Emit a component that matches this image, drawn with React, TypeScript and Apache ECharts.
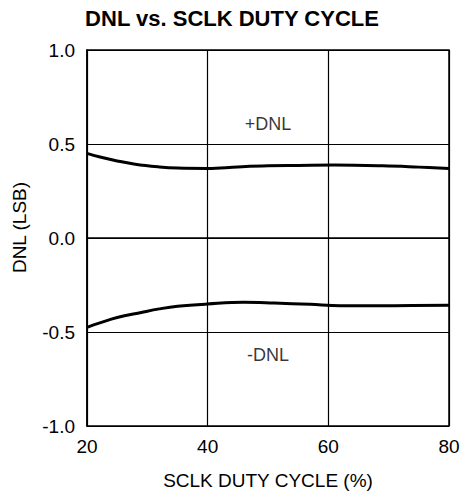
import React, { useEffect, useRef } from "react";
import * as echarts from "echarts";

const titleText = "DNL vs. SCLK DUTY CYCLE";
const xAxisName = "SCLK DUTY CYCLE (%)";
const yAxisName = "DNL (LSB)";

const xTicks = [20, 40, 60, 80];
const yTicks = [-1.0, -0.5, 0.0, 0.5, 1.0];

// +DNL curve: duty cycle (%), DNL (LSB)
const posX = [20, 22, 25, 28, 32, 35, 40, 45, 50, 55, 61, 69, 75, 80];
const posY = [0.45, 0.432, 0.41, 0.392, 0.378, 0.372, 0.37, 0.378, 0.384, 0.386, 0.388, 0.384, 0.377, 0.37];

// -DNL curve
const negX = [20, 22, 25, 29, 32, 35, 40, 46, 51, 57, 62, 71, 80];
const negY = [-0.475, -0.453, -0.423, -0.396, -0.377, -0.363, -0.351, -0.342, -0.346, -0.353, -0.36, -0.36, -0.358];

const annotationText = ["+DNL", "-DNL"];
const annotationX = [50, 50];
const annotationY = [0.605, -0.621];

const FONT = "'Liberation Sans', Arial, sans-serif";

export default function App() {
  const ref = useRef<HTMLDivElement>(null);

  useEffect(() => {
    if (!ref.current) return;
    const chart = echarts.init(ref.current, undefined, { renderer: "svg" });
    const curveStyle = { color: "#000", width: 3 };
    chart.setOption({
      animation: false,
      backgroundColor: "#fff",
      textStyle: { fontFamily: FONT, color: "#000" },
      title: {
        text: titleText,
        left: "center",
        top: 7,
        padding: 0,
        textStyle: { fontFamily: FONT, fontSize: 22, fontWeight: "bold", color: "#000" },
      },
      grid: {
        left: 87,
        right: 15,
        top: 50,
        bottom: 66,
        show: true,
        borderColor: "#000",
        borderWidth: 1.5,
        containLabel: false,
      },
      xAxis: {
        type: "value",
        min: xTicks[0],
        max: xTicks[xTicks.length - 1],
        interval: 20,
        name: xAxisName,
        nameLocation: "middle",
        nameGap: 45,
        nameTextStyle: { fontFamily: FONT, fontSize: 19, color: "#000" },
        axisLine: { show: true, lineStyle: { color: "#000", width: 1.5 } },
        axisTick: { show: false },
        axisLabel: {
          margin: 11,
          fontFamily: FONT,
          fontSize: 19,
          color: "#000",
          formatter: (v: number) => String(v),
        },
        splitLine: { show: true, lineStyle: { color: "#000", width: 1.2 } },
      },
      yAxis: {
        type: "value",
        min: yTicks[0],
        max: yTicks[yTicks.length - 1],
        interval: 0.5,
        name: yAxisName,
        nameLocation: "middle",
        nameGap: 58,
        nameTextStyle: { fontFamily: FONT, fontSize: 19, color: "#000", padding: [0, 0, 0, 21] },
        axisLine: { show: true, lineStyle: { color: "#000", width: 1.5 } },
        axisTick: { show: false },
        axisLabel: {
          margin: 12,
          fontFamily: FONT,
          fontSize: 19,
          color: "#000",
          formatter: (v: number) => v.toFixed(1),
        },
        splitLine: { show: true, lineStyle: { color: "#000", width: 1.2 } },
      },
      series: [
        {
          type: "line",
          name: "+DNL",
          data: posX.map((x, i) => [x, posY[i]]),
          smooth: 0.4,
          showSymbol: false,
          symbol: "none",
          lineStyle: curveStyle,
          z: 5,
        },
        {
          type: "line",
          name: "-DNL",
          data: negX.map((x, i) => [x, negY[i]]),
          smooth: 0.4,
          showSymbol: false,
          symbol: "none",
          lineStyle: curveStyle,
          z: 5,
        },
        {
          type: "scatter",
          symbolSize: 0,
          data: annotationText.map((t, i) => ({ value: [annotationX[i], annotationY[i]], name: t })),
          label: {
            show: true,
            position: "inside",
            formatter: (p: any) => p.name,
            fontFamily: FONT,
            fontSize: 18,
            color: "#000",
          },
          silent: true,
          z: 6,
        },
      ],
    });
    return () => chart.dispose();
  }, []);

  return <div ref={ref} style={{ width: 464, height: 495, position: "absolute", left: 0, top: 0 }} />;
}
